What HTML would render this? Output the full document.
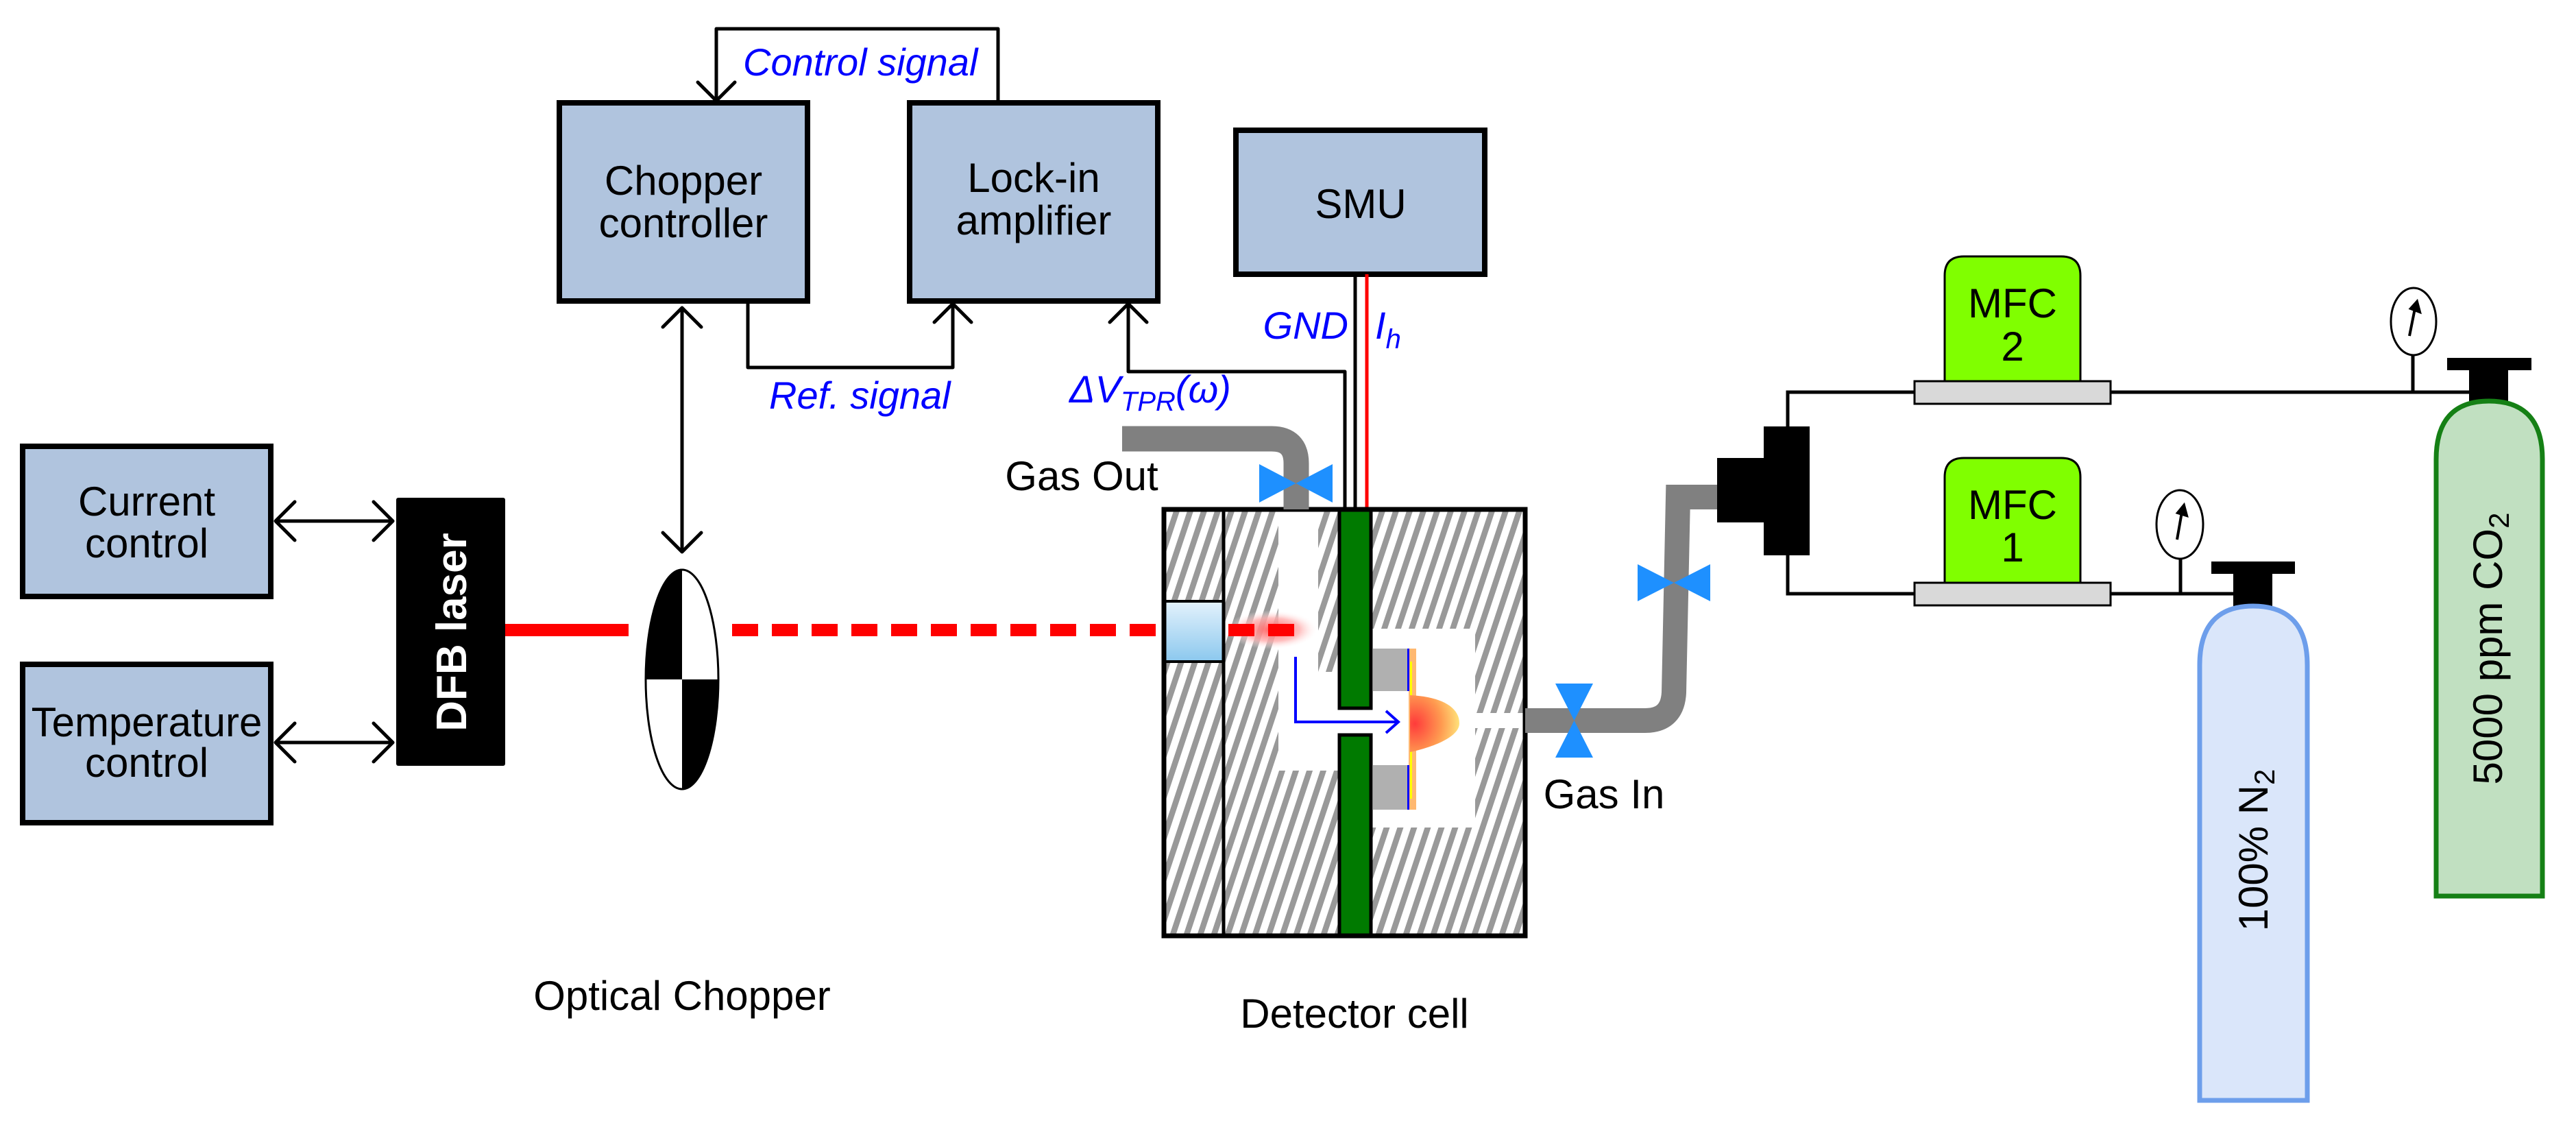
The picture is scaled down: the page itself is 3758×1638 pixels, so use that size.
<!DOCTYPE html>
<html><head><meta charset="utf-8"><style>html,body{margin:0;padding:0;background:#fff}svg{display:block}</style></head><body>
<svg width="3758" height="1638" viewBox="0 0 3758 1638" xmlns="http://www.w3.org/2000/svg" font-family="Liberation Sans, Arial, sans-serif">
<defs>
<pattern id="h" width="20" height="20" patternUnits="userSpaceOnUse" patternTransform="skewX(-18.4)">
<rect width="20" height="20" fill="#fff"/><rect x="0" width="9" height="20" fill="#999"/></pattern>
<linearGradient id="win" x1="0" y1="0" x2="0" y2="1"><stop offset="0" stop-color="#e4f2fc"/><stop offset="1" stop-color="#8cc8ee"/></linearGradient>
<radialGradient id="glow" cx="0.5" cy="0.5" r="0.5"><stop offset="0" stop-color="#ff6060"/><stop offset="0.6" stop-color="#ffb0b0" stop-opacity="0.8"/><stop offset="1" stop-color="#fff" stop-opacity="0"/></radialGradient>
<radialGradient id="flame" cx="0.1" cy="0.5" r="0.9"><stop offset="0" stop-color="#ff3b3b"/><stop offset="0.6" stop-color="#ff9a50"/><stop offset="1" stop-color="#ffe27a"/></radialGradient>
</defs>

<g stroke="#000" stroke-width="8" fill="#b0c4de">
<rect x="33" y="651" width="362" height="219"/>
<rect x="33" y="969" width="362" height="231"/>
<rect x="816" y="150" width="362" height="289"/>
<rect x="1327" y="150" width="362" height="289"/>
<rect x="1803" y="190" width="363" height="210"/>
</g>
<g font-size="60" text-anchor="middle" fill="#000">
<text x="214" y="752">Current</text><text x="214" y="813">control</text>
<text x="214" y="1074">Temperature</text><text x="214" y="1133">control</text>
<text x="997" y="284">Chopper</text><text x="997" y="346">controller</text>
<text x="1508" y="280">Lock-in</text><text x="1508" y="342">amplifier</text>
<text x="1985" y="318">SMU</text>
</g>

<rect x="578" y="726" width="159" height="391" rx="3" fill="#000"/>
<text transform="translate(680,922) rotate(-90)" font-size="62" font-weight="bold" fill="#fff" text-anchor="middle">DFB laser</text>

<g stroke="#000" stroke-width="5" fill="none" stroke-linecap="round" stroke-linejoin="round">
<path d="M402,760 H573 M430,732 L402,760 L430,788 M545,732 L573,760 L545,788"/>
<path d="M402,1083 H573 M430,1055 L402,1083 L430,1111 M545,1055 L573,1083 L545,1111"/>
<path d="M995,449 V805 M967,477 L995,449 L1023,477 M967,777 L995,805 L1023,777"/>
<path d="M1045,147 V42 H1456 V150 M1018,120 L1045,147 L1072,120"/>
<path d="M1091,439 V536 H1390 V443 M1363,470 L1390,443 L1417,470"/>
<path d="M1646,443 V542 H1962 V743 M1619,470 L1646,443 L1673,470"/>
</g>
<line x1="1977" y1="400" x2="1977" y2="743" stroke="#000" stroke-width="5"/>
<line x1="1994" y1="400" x2="1994" y2="743" stroke="#f00" stroke-width="5"/>

<g fill="#0000ff" font-style="italic" font-size="56">
<text x="1084" y="110">Control signal</text>
<text x="1122" y="596">Ref. signal</text>
<text x="1967" y="494" text-anchor="end">GND</text>
<text x="2006" y="494">I<tspan font-size="40" dy="14">h</tspan></text>
<text x="1560" y="587">ΔV<tspan font-size="40" dy="12">TPR</tspan><tspan dy="-12">(ω)</tspan></text>
</g>

<rect x="737" y="910" width="180" height="18" fill="#f00"/>
<line x1="1068" y1="919" x2="1790" y2="919" stroke="#f00" stroke-width="18" stroke-dasharray="38,20"/>

<g>
<clipPath id="ec"><ellipse cx="995" cy="991" rx="53" ry="160"/></clipPath>
<g clip-path="url(#ec)">
<rect x="940" y="830" width="55" height="161" fill="#000"/>
<rect x="995" y="991" width="55" height="162" fill="#000"/>
</g>
<ellipse cx="995" cy="991" rx="53" ry="160" fill="none" stroke="#000" stroke-width="3"/>
</g>
<g font-size="60" fill="#000" text-anchor="middle">
<text x="995" y="1473">Optical Chopper</text>
<text x="1976" y="1499">Detector cell</text>
<text x="1578" y="715">Gas Out</text>
<text x="2340" y="1179">Gas In</text>
</g>

<rect x="1698" y="743" width="527" height="622" fill="url(#h)"/>
<rect x="1865" y="743" width="58" height="240" fill="#fff"/>
<rect x="1865" y="980" width="87" height="144" fill="#fff"/>
<rect x="1952" y="1033" width="50" height="39" fill="#fff"/>
<rect x="2002" y="917" width="150" height="290" fill="#fff"/>
<rect x="2150" y="1040" width="75" height="22" fill="#fff"/>
<rect x="1698" y="877" width="87" height="88" fill="url(#win)" stroke="#000" stroke-width="4"/>
<rect x="1789" y="890" width="134" height="57" fill="url(#glow)"/>
<line x1="1790" y1="919" x2="1908" y2="919" stroke="#f00" stroke-width="18" stroke-dasharray="38,20" stroke-dashoffset="-2"/>
<rect x="1954" y="743" width="46" height="290" fill="#007a00" stroke="#000" stroke-width="5"/>
<rect x="1954" y="1072" width="46" height="293" fill="#007a00" stroke="#000" stroke-width="5"/>
<line x1="1785" y1="743" x2="1785" y2="1365" stroke="#000" stroke-width="5"/>
<rect x="1698" y="743" width="527" height="622" fill="none" stroke="#000" stroke-width="7"/>
<rect x="2003" y="946" width="50" height="62" fill="#b0b0b0"/>
<rect x="2003" y="1116" width="50" height="65" fill="#b0b0b0"/>
<rect x="2055" y="946" width="11" height="235" fill="#ffb870"/>
<rect x="2053" y="946" width="3" height="62" fill="#00f"/><rect x="2053" y="1116" width="3" height="65" fill="#00f"/>
<rect x="2057" y="965" width="3" height="200" fill="#ff0"/>
<path d="M2057,1014 C2100,1016 2129,1030 2129,1055 C2129,1075 2090,1090 2057,1097 Z" fill="url(#flame)"/>
<path d="M1890,958 V1053 H2038 M2022,1037 L2040,1053 L2022,1069" stroke="#00f" stroke-width="4" fill="none"/>

<path d="M1637,640 H1855 Q1891,640 1891,676 V743" stroke="#808080" stroke-width="37" fill="none"/>
<path d="M2225,1051 H2400 Q2440,1051 2442,1010 L2448,725 H2510" stroke="#808080" stroke-width="36" fill="none"/>
<g fill="#1e90ff">
<path d="M1837,677 L1944,733 V677 L1837,733 Z"/>
<path d="M2269,997 H2324 L2269,1105 H2324 Z"/>
<path d="M2389,823 L2495,877 V823 L2389,877 Z"/>
</g>
<rect x="2505" y="668" width="70" height="94" fill="#000"/>
<rect x="2573" y="622" width="67" height="188" fill="#000"/>
<g stroke="#000" stroke-width="5" fill="none">
<path d="M2608,622 V572 H2795"/>
<path d="M2608,810 V866 H2795"/>
<path d="M3079,572 H3605"/>
<path d="M3079,866 H3258"/>
<line x1="3520" y1="572" x2="3520" y2="518"/>
<line x1="3181" y1="866" x2="3181" y2="816"/>
</g>
<g stroke="#000" stroke-width="3">
<path d="M2837,556 V402 Q2837,374 2865,374 H3007 Q3035,374 3035,402 V556 Z" fill="#80ff00"/>
<path d="M2837,850 V696 Q2837,668 2865,668 H3007 Q3035,668 3035,696 V850 Z" fill="#80ff00"/>
<rect x="2793" y="556" width="286" height="33" fill="#d9d9d9"/>
<rect x="2793" y="850" width="286" height="33" fill="#d9d9d9"/>
</g>
<g font-size="60" text-anchor="middle">
<text x="2936" y="463">MFC</text><text x="2936" y="526">2</text>
<text x="2936" y="757">MFC</text><text x="2936" y="819">1</text>
</g>
<g stroke="#000" stroke-width="3" fill="#fff">
<ellipse cx="3521" cy="469" rx="33" ry="49"/>
<ellipse cx="3180" cy="765" rx="34" ry="50"/>
</g>
<g stroke="#000" stroke-width="4" fill="#000">
<line x1="3515" y1="490" x2="3523" y2="450"/><path d="M3517,450 L3526,440 L3530,455 Z"/>
<line x1="3176" y1="787" x2="3183" y2="747"/><path d="M3177,748 L3186,737 L3190,752 Z"/>
</g>
<rect x="3226" y="819" width="122" height="18" fill="#000"/>
<rect x="3258" y="836" width="57" height="48" fill="#000"/>
<path d="M3209,1605 V970 Q3209,884 3287,884 Q3366,884 3366,970 V1605 Z" fill="#dae6fa" stroke="#6d9eeb" stroke-width="7"/>
<rect x="3570" y="522" width="123" height="18" fill="#000"/>
<rect x="3602" y="539" width="57" height="46" fill="#000"/>
<path d="M3554,1307 V670 Q3554,585 3631,585 Q3709,585 3709,670 V1307 Z" fill="#c1e0c1" stroke="#158015" stroke-width="7"/>
<text transform="translate(3308,1240) rotate(-90)" font-size="60" text-anchor="middle">100% N<tspan font-size="42" dy="10">2</tspan></text>
<text transform="translate(3650,946) rotate(-90)" font-size="60" text-anchor="middle">5000 ppm CO<tspan font-size="42" dy="10">2</tspan></text>
</svg>
</body></html>
